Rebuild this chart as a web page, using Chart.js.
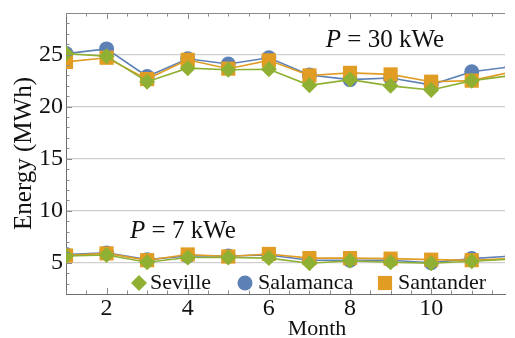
<!DOCTYPE html>
<html>
<head>
<meta charset="utf-8">
<script src="https://cdn.jsdelivr.net/npm/chart.js@4.4.1/dist/chart.umd.min.js"></script>
<style>
  html, body { margin: 0; padding: 0; background: #fff; }
  #wrap { width: 515px; height: 338px; }
</style>
</head>
<body>
<div id="wrap"><canvas id="grafico" width="515" height="338"></canvas></div>
<script>
// Energia mensal (MWh)
const meses = [1, 2, 3, 4, 5, 6, 7, 8, 9, 10, 11, 12];

const seville30   = [25.1, 24.85, 22.4, 23.7, 23.55, 23.6, 22.05, 22.6, 22.0, 21.6, 22.5, 23.0];
const salamanca30 = [25.1, 25.55, 22.9, 24.6, 24.1, 24.7, 23.05, 22.6, 22.75, 22.1, 23.35, 23.85];
const santander30 = [24.3, 24.7, 22.65, 24.5, 23.65, 24.45, 23.0, 23.25, 23.1, 22.4, 22.5, 23.35];

const seville7   = [5.65, 5.75, 5.05, 5.5, 5.5, 5.45, 4.95, 5.2, 5.05, 4.95, 5.15, 5.35];
const salamanca7 = [5.8, 5.95, 5.3, 5.65, 5.65, 5.75, 5.25, 5.25, 5.25, 5.0, 5.4, 5.65];
const santander7 = [5.7, 5.9, 5.25, 5.8, 5.6, 5.85, 5.45, 5.45, 5.4, 5.3, 5.25, 5.4];

const ticksX = [2, 4, 6, 8, 10];
const ticksY = [5, 10, 15, 20, 25];

const azul = '#5E81B5', laranja = '#E19C24', verde = '#8FB032';
const fonte = '"Liberation Serif", "DejaVu Serif", serif';

function pontos(valores) {
    return meses.map((m, i) => ({ x: m, y: valores[i] }));
}

function serie(nome, valores, cor, estilo, raio) {
    return {
        label: nome,
        data: pontos(valores),
        borderColor: cor,
        backgroundColor: cor,
        pointBackgroundColor: cor,
        borderWidth: 1.6,
        pointStyle: estilo,
        pointRadius: raio,
        pointHoverRadius: raio,
        pointBorderWidth: 0,
        tension: 0,
        clip: 0 // corta as marcas na borda da área do gráfico
    };
}

// moldura com marcas para dentro, legenda e textos
const moldura = {
    id: 'moldura',
    afterDraw(chart) {
        const ctx = chart.ctx;
        const a = chart.chartArea;
        const sx = chart.scales.x, sy = chart.scales.y;
        ctx.save();
        ctx.strokeStyle = '#8a8a8a';
        ctx.lineWidth = 1;
        ctx.beginPath();
        ctx.moveTo(a.left, a.top + 0.5);
        ctx.lineTo(a.right, a.top + 0.5);
        // marcas no eixo x (baixo e cima)
        for (let v = 1; v <= 12; v += 0.5) {
            const px = Math.round(sx.getPixelForValue(v)) + 0.5;
            if (px < a.left || px > a.right) continue;
            const len = (v % 2 === 0) ? 6 : 3.5;
            ctx.moveTo(px, a.bottom);
            ctx.lineTo(px, a.bottom - len);
            ctx.moveTo(px, a.top);
            ctx.lineTo(px, a.top + len);
        }
        // marcas no eixo y
        for (let v = 3; v <= 28; v++) {
            const py = Math.round(sy.getPixelForValue(v)) + 0.5;
            const len = (v % 5 === 0) ? 6 : 3.5;
            ctx.moveTo(a.left, py);
            ctx.lineTo(a.left + len, py);
        }
        ctx.stroke();

        // legenda
        const itens = [
            { texto: 'Seville', cor: verde, estilo: 'rectRot', raio: 8, x: 139, tx: 150 },
            { texto: 'Salamanca', cor: azul, estilo: 'circle', raio: 7.5, x: 245, tx: 258 },
            { texto: 'Santander', cor: laranja, estilo: 'rect', raio: 10, x: 385, tx: 398 }
        ];
        ctx.font = '22px ' + fonte;
        ctx.textBaseline = 'alphabetic';
        ctx.textAlign = 'left';
        itens.forEach(it => {
            ctx.fillStyle = it.cor;
            Chart.helpers.drawPoint(ctx, { pointStyle: it.estilo, radius: it.raio, rotation: 0, borderWidth: 0 }, it.x, 283);
            ctx.fillStyle = '#111';
            ctx.fillText(it.texto, it.tx, 289);
        });

        // anotações de potência
        function rotulo(resto, cx, base, tam) {
            ctx.font = 'italic ' + tam + 'px ' + fonte;
            const wp = ctx.measureText('P').width;
            ctx.font = tam + 'px ' + fonte;
            const wr = ctx.measureText(resto).width;
            const x0 = cx - (wp + wr) / 2;
            ctx.fillStyle = '#111';
            ctx.font = 'italic ' + tam + 'px ' + fonte;
            ctx.fillText('P', x0, base);
            ctx.font = tam + 'px ' + fonte;
            ctx.fillText(resto, x0 + wp, base);
        }
        rotulo(' = 30 kWe', 385, 47, 25);
        rotulo(' = 7 kWe', 183, 238, 25);

        // título do eixo x
        ctx.font = '22px ' + fonte;
        ctx.textAlign = 'center';
        ctx.fillText('Month', 317, 335);
        ctx.restore();
    }
};

const ctx = document.getElementById('grafico').getContext('2d');
const energia = new Chart(ctx, {
    type: 'line',
    data: {
        datasets: [
            serie('Seville', seville30, verde, 'rectRot', 8),
            serie('Seville', seville7, verde, 'rectRot', 8),
            serie('Santander', santander30, laranja, 'rect', 10),
            serie('Santander', santander7, laranja, 'rect', 10),
            serie('Salamanca', salamanca30, azul, 'circle', 7.5),
            serie('Salamanca', salamanca7, azul, 'circle', 7.5)
        ]
    },
    options: {
        responsive: false,
        animation: false,
        layout: { padding: { top: 13, right: 0, left: 0, bottom: 0 } },
        plugins: {
            legend: { display: false },
            tooltip: { enabled: false }
        },
        scales: {
            x: {
                type: 'linear',
                min: 1,
                max: 11.82,
                afterBuildTicks: s => { s.ticks = ticksX.map(v => ({ value: v })); },
                afterFit: s => { s.height = 44; s.paddingLeft = 0; s.paddingRight = 0; },
                grid: { drawOnChartArea: false, drawTicks: false },
                border: { display: true, color: '#6e6e6e', width: 1 },
                ticks: { padding: 0, color: '#111', font: { family: fonte, size: 24 }, maxRotation: 0 }
            },
            y: {
                min: 2,
                max: 29,
                afterBuildTicks: s => { s.ticks = ticksY.map(v => ({ value: v })); },
                afterFit: s => { s.width = 66; s.paddingTop = 0; s.paddingBottom = 0; },
                grid: { color: '#cfcfcf', lineWidth: 1.2, drawTicks: false },
                border: { display: true, color: '#6e6e6e', width: 1 },
                ticks: { padding: 3, color: '#111', font: { family: fonte, size: 24 } },
                title: {
                    display: true,
                    text: 'Energy (MWh)',
                    color: '#111',
                    font: { family: fonte, size: 25 },
                    padding: { top: 9, bottom: 0 }
                }
            }
        }
    },
    plugins: [moldura]
});
</script>
</body>
</html>
